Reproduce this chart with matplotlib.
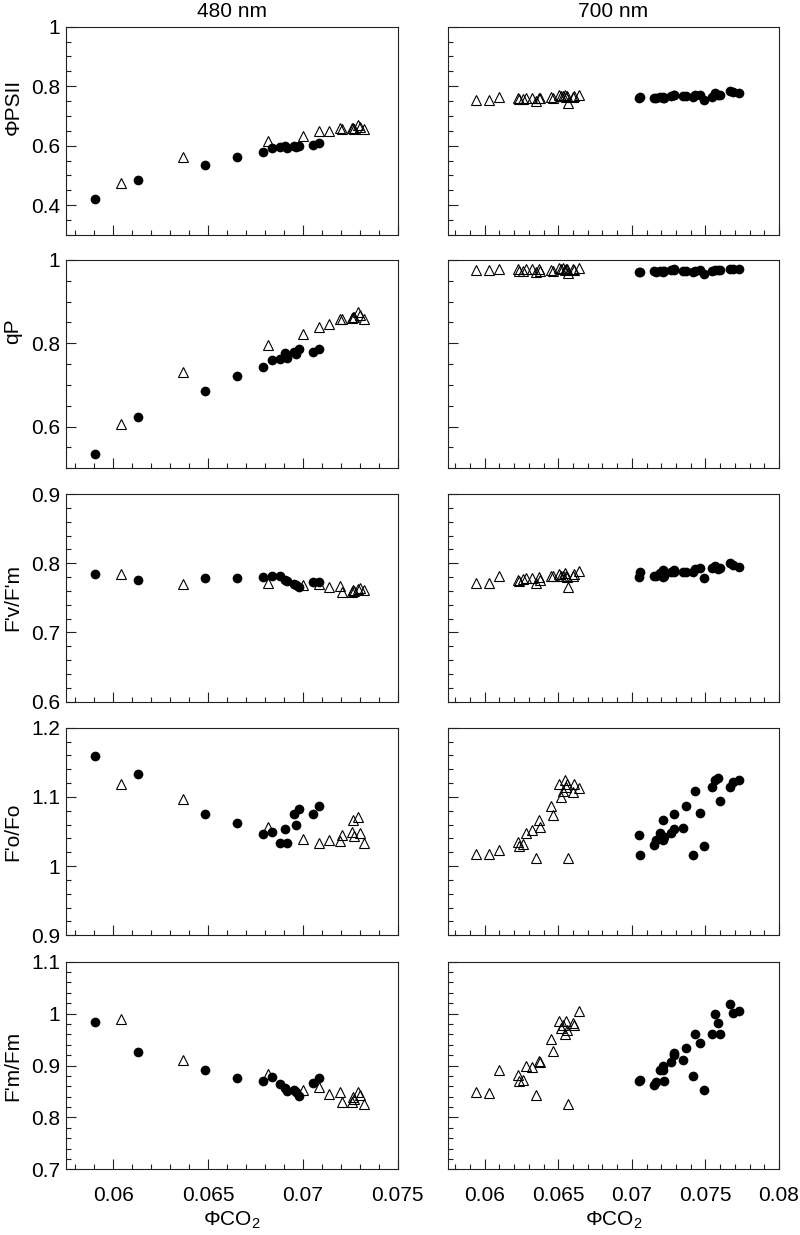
#!/usr/bin/env python3
"""Chlorophyll fluorescence parameters vs PhiCO2 at 480 nm and 700 nm (5x2 scatter grid)."""
import matplotlib
matplotlib.use("Agg")
import matplotlib.pyplot as plt
from matplotlib.ticker import MultipleLocator, FuncFormatter

plt.rcParams["font.family"] = ["Liberation Sans", "DejaVu Sans"]
plt.rcParams["mathtext.fontset"] = "custom"
plt.rcParams["mathtext.rm"] = "Liberation Sans"

# ---- 480 nm ----
x480_circ = [0.05903, 0.06128, 0.06483, 0.06654, 0.06791, 0.06835, 0.06879,
             0.06905, 0.06914, 0.06953, 0.06962, 0.06979, 0.07051, 0.07085]
x480_tri = [0.06040, 0.06369, 0.06817, 0.06999, 0.07087, 0.07138, 0.07196,
            0.07208, 0.07257, 0.07266, 0.07271, 0.07289, 0.07301, 0.07322]

psii480_circ = [0.420, 0.485, 0.535, 0.562, 0.578, 0.593, 0.597, 0.600, 0.594, 0.600, 0.597, 0.600, 0.602, 0.608]
psii480_tri = [0.476, 0.563, 0.617, 0.632, 0.649, 0.649, 0.658, 0.655, 0.658, 0.660, 0.657, 0.669, 0.664, 0.655]
qp480_circ = [0.534, 0.624, 0.686, 0.722, 0.742, 0.760, 0.762, 0.776, 0.764, 0.778, 0.774, 0.786, 0.780, 0.786]
qp480_tri = [0.606, 0.730, 0.796, 0.822, 0.838, 0.846, 0.858, 0.859, 0.860, 0.864, 0.862, 0.876, 0.868, 0.858]
fvfm480_circ = [0.784, 0.776, 0.779, 0.778, 0.780, 0.781, 0.782, 0.776, 0.774, 0.770, 0.768, 0.765, 0.773, 0.773]
fvfm480_tri = [0.785, 0.770, 0.771, 0.768, 0.770, 0.766, 0.767, 0.759, 0.759, 0.762, 0.760, 0.763, 0.764, 0.762]
fofo480_circ = [1.159, 1.133, 1.075, 1.062, 1.046, 1.050, 1.034, 1.053, 1.033, 1.075, 1.059, 1.082, 1.076, 1.087]
fofo480_tri = [1.119, 1.097, 1.057, 1.039, 1.034, 1.037, 1.036, 1.045, 1.050, 1.067, 1.043, 1.071, 1.048, 1.033]
fmfm480_circ = [0.983, 0.926, 0.892, 0.876, 0.870, 0.878, 0.865, 0.857, 0.851, 0.852, 0.848, 0.841, 0.867, 0.875]
fmfm480_tri = [0.990, 0.910, 0.884, 0.853, 0.859, 0.846, 0.849, 0.830, 0.830, 0.839, 0.836, 0.849, 0.844, 0.825]

# ---- 700 nm ----
x700_tri = [0.05940, 0.06029, 0.06099, 0.06224, 0.06235, 0.06258, 0.06280, 0.06319,
            0.06348, 0.06371, 0.06375, 0.06450, 0.06461, 0.06507, 0.06518, 0.06529,
            0.06545, 0.06550, 0.06557, 0.06568, 0.06602, 0.06606, 0.06643]
x700_circ = [0.07048, 0.07055, 0.07153, 0.07164, 0.07191, 0.07214, 0.07214, 0.07221,
             0.07264, 0.07286, 0.07289, 0.07350, 0.07368, 0.07418, 0.07429, 0.07463,
             0.07492, 0.07547, 0.07565, 0.07588, 0.07599, 0.07667, 0.07690, 0.07730]

psii700_tri = [0.753, 0.753, 0.764, 0.761, 0.758, 0.758, 0.762, 0.762, 0.751, 0.761, 0.760, 0.764,
               0.762, 0.770, 0.767, 0.767, 0.769, 0.764, 0.767, 0.745, 0.764, 0.767, 0.772]
psii700_circ = [0.762, 0.764, 0.761, 0.759, 0.764, 0.764, 0.759, 0.762, 0.767, 0.770, 0.772, 0.767,
                0.767, 0.764, 0.770, 0.770, 0.753, 0.764, 0.778, 0.772, 0.772, 0.784, 0.781, 0.778]
qp700_tri = [0.976, 0.976, 0.978, 0.978, 0.974, 0.974, 0.978, 0.978, 0.972, 0.978, 0.974, 0.976,
             0.974, 0.980, 0.978, 0.980, 0.976, 0.978, 0.978, 0.968, 0.978, 0.976, 0.980]
qp700_circ = [0.972, 0.970, 0.974, 0.972, 0.974, 0.974, 0.970, 0.974, 0.976, 0.978, 0.976, 0.974,
              0.974, 0.970, 0.974, 0.976, 0.966, 0.974, 0.976, 0.976, 0.976, 0.978, 0.978, 0.978]
fvfm700_tri = [0.771, 0.771, 0.782, 0.776, 0.775, 0.777, 0.778, 0.778, 0.771, 0.780, 0.776, 0.782,
               0.781, 0.784, 0.782, 0.781, 0.786, 0.782, 0.780, 0.766, 0.782, 0.784, 0.789]
fvfm700_circ = [0.780, 0.788, 0.781, 0.782, 0.786, 0.790, 0.780, 0.782, 0.788, 0.790, 0.788, 0.787,
                0.787, 0.788, 0.791, 0.793, 0.778, 0.793, 0.796, 0.791, 0.793, 0.801, 0.798, 0.795]
fofo700_tri = [1.018, 1.018, 1.023, 1.035, 1.029, 1.032, 1.048, 1.052, 1.012, 1.066, 1.056, 1.087,
               1.074, 1.119, 1.100, 1.109, 1.124, 1.114, 1.118, 1.012, 1.107, 1.119, 1.113]
fofo700_circ = [1.045, 1.016, 1.030, 1.037, 1.048, 1.067, 1.037, 1.042, 1.048, 1.054, 1.075, 1.055,
                1.087, 1.016, 1.109, 1.077, 1.029, 1.115, 1.124, 1.127, 1.094, 1.114, 1.122, 1.125]
fmfm700_tri = [0.849, 0.847, 0.892, 0.881, 0.871, 0.873, 0.900, 0.898, 0.844, 0.908, 0.907, 0.952,
               0.928, 0.985, 0.973, 0.978, 0.961, 0.985, 0.968, 0.826, 0.981, 0.978, 1.005]
fmfm700_circ = [0.870, 0.873, 0.862, 0.868, 0.892, 0.900, 0.891, 0.870, 0.906, 0.921, 0.924, 0.910,
                0.934, 0.880, 0.961, 0.943, 0.852, 0.961, 1.000, 0.981, 0.961, 1.018, 1.002, 1.005]

row_labels = ["ΦPSII", "qP", "F'v/F'm", "F'o/Fo", "F'm/Fm"]
col_titles = ["480 nm", "700 nm"]
ylims = [(0.3, 1.0), (0.5, 1.0), (0.6, 0.9), (0.9, 1.2), (0.7, 1.1)]
y_major = [0.2, 0.2, 0.1, 0.1, 0.1]
y_minor = [0.05, 0.05, 0.02, 0.02, 0.02]
xlims = [(0.0575, 0.075), (0.0575, 0.08)]

data480 = [(psii480_circ, psii480_tri), (qp480_circ, qp480_tri), (fvfm480_circ, fvfm480_tri),
           (fofo480_circ, fofo480_tri), (fmfm480_circ, fmfm480_tri)]
data700 = [(psii700_circ, psii700_tri), (qp700_circ, qp700_tri), (fvfm700_circ, fvfm700_tri),
           (fofo700_circ, fofo700_tri), (fmfm700_circ, fmfm700_tri)]

W, H = 800, 1235
fig = plt.figure(figsize=(W / 100, H / 100), dpi=100)

col_x = [(66, 331.7), (448, 331)]
row_y = [(26.7, 235), (260, 468.3), (494, 701.7), (727.7, 935.3), (961.7, 1169.3)]
label_y = [0.615, 0.66, 0.5, 0.5, 0.5]
fmt = FuncFormatter(lambda v, p: f"{v:g}")
INK = "#222222"

for c in range(2):
    xc, xs = (x480_circ, x480_tri) if c == 0 else (x700_circ, x700_tri)
    data = data480 if c == 0 else data700
    for r in range(5):
        left, width = col_x[c]
        top, bottom = row_y[r]
        ax = fig.add_axes([left / W, 1 - bottom / H, width / W, (bottom - top) / H])
        yc, ys = data[r]
        ax.plot(xs, ys, ls="none", marker="^", ms=7, mfc="none", mec="black", mew=0.8)
        ax.plot(xc, yc, ls="none", marker="o", ms=7, mfc="black", mec="black", mew=0)

        ax.set_xlim(*xlims[c])
        ax.set_ylim(*ylims[r])
        ax.xaxis.set_major_locator(MultipleLocator(0.005))
        ax.xaxis.set_minor_locator(MultipleLocator(0.001))
        ax.yaxis.set_major_locator(MultipleLocator(y_major[r]))
        ax.yaxis.set_minor_locator(MultipleLocator(y_minor[r]))
        ax.xaxis.set_major_formatter(fmt)
        ax.yaxis.set_major_formatter(fmt)
        ax.tick_params(which="both", direction="in", top=False, right=False, color=INK,
                       labelsize=15, width=0.8)
        ax.tick_params(which="major", length=7)
        ax.tick_params(which="minor", length=3.5)
        ax.tick_params(axis="x", pad=12)
        ax.tick_params(axis="y", pad=4)
        for sp in ax.spines.values():
            sp.set_color(INK)
            sp.set_linewidth(0.8)

        if r < 4:
            ax.tick_params(axis="x", labelbottom=False)
        else:
            ax.set_xlabel("ΦCO$_2$", fontsize=15, labelpad=3)
        if c == 1:
            ax.tick_params(axis="y", labelleft=False)
        else:
            ax.set_ylabel(row_labels[r], fontsize=15)
            ax.yaxis.set_label_coords(-0.131, label_y[r])
        if r == 0:
            ax.set_title(col_titles[c], fontsize=15, pad=7)

fig.savefig("out.png", dpi=100, facecolor="white")
